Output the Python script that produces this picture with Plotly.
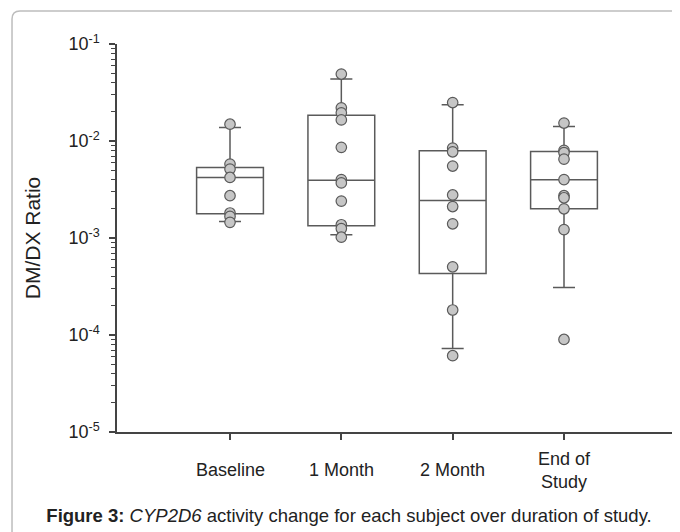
import plotly.graph_objects as go

# ---- data ----
categories = ["Baseline", "1 Month", "2 Month", "End of Study"]
category_labels = ["Baseline", "1 Month", "2 Month", "End of<br>Study"]

baseline = [0.0149, 0.00578, 0.00514, 0.00421, 0.00273, 0.00181, 0.00167, 0.00145]
month1 = [0.049, 0.022, 0.0195, 0.0165, 0.0086, 0.0040, 0.0037, 0.0024, 0.00137, 0.00125, 0.00102]
month2 = [0.0249, 0.00845, 0.00774, 0.00552, 0.00278, 0.00211, 0.00140, 0.000505, 0.000181, 0.0000612]
end_study = [0.0153, 0.0080, 0.0076, 0.0065, 0.0040, 0.00273, 0.0026, 0.0020, 0.00122, 0.000090]
series = [baseline, month1, month2, end_study]

# box statistics (whiskers at 10th/90th percentiles, as drawn)
q1 = [0.00178, 0.00134, 0.000431, 0.0020]
median = [0.00421, 0.00393, 0.00243, 0.00399]
q3 = [0.00534, 0.01846, 0.00792, 0.0078]
lower_whisker = [0.00148, 0.00108, 0.0000727, 0.000309]
upper_whisker = [0.01377, 0.0436, 0.0236, 0.01409]

ytick_vals = [1e-5, 1e-4, 1e-3, 1e-2, 1e-1]
ytick_text = ["10<sup>-5</sup>", "10<sup>-4</sup>", "10<sup>-3</sup>", "10<sup>-2</sup>", "10<sup>-1</sup>"]

caption = ("<b>Figure 3:</b> <i>CYP2D6</i> activity change for each subject "
           "over duration of study.")

LINE = "#5a5a5a"
TEXT = "#222222"
FONT = "Liberation Sans, Arial, sans-serif"

# the page body has an 8px margin, so the figure is 8px smaller
W, H = 672, 524

fig = go.Figure()

fig.add_trace(go.Box(
    x=categories, q1=q1, median=median, q3=q3,
    lowerfence=lower_whisker, upperfence=upper_whisker,
    width=0.6, whiskerwidth=0.33,
    fillcolor="rgba(0,0,0,0)",
    line=dict(color=LINE, width=1.5),
    boxpoints=False, showlegend=False, hoverinfo="skip",
))

for cat, vals in zip(categories, series):
    fig.add_trace(go.Scatter(
        x=[cat] * len(vals), y=vals, mode="markers",
        marker=dict(size=10.5, color="#c6c6c6", line=dict(color=LINE, width=1.2)),
        showlegend=False, hoverinfo="skip",
    ))

# category labels, vertically centred like the reference
for cat, lab in zip(categories, category_labels):
    fig.add_annotation(x=cat, xref="x", y=0, yref="paper", yshift=-38,
                       text=lab, showarrow=False, yanchor="middle",
                       font=dict(size=18, color=TEXT, family=FONT))

# rounded figure frame
L, T, R, B = -0.1878, 1.0851, 1.2, -0.4
rx, ry = 8 / 559, 8 / 388
path = (f"M {L},{B} L {L},{T - ry} Q {L},{T} {L + rx},{T} L {R},{T}")
fig.add_shape(type="path", path=path, xref="paper", yref="paper",
              line=dict(color="#bdbdbd", width=1.5), layer="below")

fig.update_layout(
    width=W, height=H,
    margin=dict(l=109, r=4, t=36, b=100),
    paper_bgcolor="white", plot_bgcolor="white",
    font=dict(family=FONT, color=TEXT),
    title=dict(text=caption, x=341 / W, xref="container", xanchor="center",
               y=(H - 508) / H, yref="container", yanchor="middle",
               font=dict(size=18.5, color=TEXT, family=FONT)),
)

fig.update_xaxes(
    type="category", range=[-1.015, 4.006],
    showline=True, linecolor="#444444", linewidth=1.5,
    ticks="outside", ticklen=6, tickcolor="#444444", tickwidth=1.5,
    showticklabels=False, showgrid=False, zeroline=False,
)

fig.update_yaxes(
    type="log", range=[-5, -1],
    tickmode="array", tickvals=ytick_vals, ticktext=ytick_text,
    showline=True, linecolor="#444444", linewidth=1.5,
    ticks="outside", ticklen=6, tickcolor="#444444", tickwidth=1.5,
    ticklabelstandoff=6,
    minor=dict(ticks="outside", ticklen=4, tickcolor="#444444", tickwidth=1,
               dtick="D1", showgrid=False),
    tickfont=dict(size=18, color=TEXT, family=FONT),
    showgrid=False, zeroline=False,
    title=dict(text="DM/DX Ratio", standoff=22,
               font=dict(size=21, color=TEXT, family=FONT)),
    automargin=False,
)

fig.write_html("out.html")
